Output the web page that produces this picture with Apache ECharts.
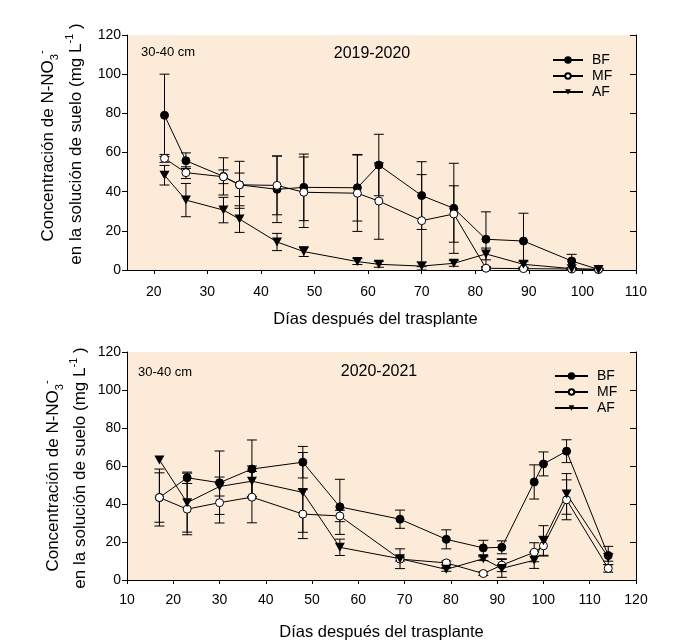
<!DOCTYPE html>
<html>
<head>
<meta charset="utf-8">
<script src="https://cdn.jsdelivr.net/npm/echarts@6/dist/echarts.min.js"></script>
<style>
html,body{margin:0;padding:0;background:#fff;}
#c{width:690px;height:642px;}
</style>
</head>
<body>
<div id="c"></div>
<script>
// ---------- Data: 2019-2020 ----------
const topDays = [22, 26, 33, 36, 43, 48, 58, 62, 70, 76, 82, 89, 98, 103];
const topBF    = [79, 55.8, 47.8, 43.5, 41.2, 42.2, 42, 53.6, 38, 31.5, 15.7, 14.8, 4.6, 0.3];
const topBFErr = [21, 4, 9.5, 12, 17, 17, 17, 15.7, 17.3, 23, 14, 14.2, 3.4, 0.5];
const topMF    = [57, 49.7, 47.6, 43.5, 43.2, 39.7, 39.2, 35.2, 25.2, 28.6, 0.9, 0.7, 0.5, 0.3];
const topMFErr = [2, 3, 3.5, 6, 15, 18, 19.5, 19.5, 23.5, 14.4, 0.5, 0.5, 0.3, 0.2];
const topAF    = [48.4, 35.7, 30.6, 26, 14.3, 9.4, 4.3, 2.9, 2, 3.4, 8.2, 2.9, 0.7, 0.3];
const topAFErr = [5, 8.5, 6.5, 6.8, 4.4, 2.5, 1.5, 1.5, 2, 1.5, 3, 1.5, 0.5, 0.3];

// ---------- Data: 2020-2021 ----------
const botDays = [17, 23, 30, 37, 48, 56, 69, 79, 87, 91, 98, 100, 105, 114];
const botBF    = [43.4, 53.8, 51.2, 58.4, 62, 38.5, 32, 21.4, 16.9, 17.2, 51.6, 61.1, 67.8, 12.9];
const botBFErr = [15, 3, 16.7, 15.3, 8.3, 14.5, 4.8, 5, 4, 3.4, 9, 6.3, 6, 4.8];
const botMF    = [43.4, 37.3, 40.7, 43.6, 34.7, 33.7, 11, 9, 3.4, 7.8, 14.6, 18, 42.2, 6.1];
const botMFErr = [13, 13.5, 10.7, 13.5, 12.9, 3, 1, 1, 1, 3.4, 5, 5, 10.5, 2];
const botAF    = [63.2, 40.7, 49.2, 52, 46.1, 17.2, 11.2, 5.6, 11.2, 6.1, 10.4, 20.6, 45.3, 11.9];
const botAFErr = [0, 15.5, 5, 8, 21, 4.3, 5.2, 1, 1, 4.7, 4.3, 8, 10.7, 2];

const topXTicks = [20, 30, 40, 50, 60, 70, 80, 90, 100, 110];
const seriesNames = ['BF', 'MF', 'AF'];

// ---------- Chart ----------
const FONT = '"Liberation Sans", Arial, sans-serif';
const BG = '#FCEBD9';
const chart = echarts.init(document.getElementById('c'), null, {renderer: 'canvas'});

const triPath = 'path://M0,0 L10,0 L5,9 Z';
const symbolStyles = {
  BF: {symbol: 'circle', symbolSize: 8, itemStyle: {color: '#000', borderColor: '#000', borderWidth: 1}},
  MF: {symbol: 'circle', symbolSize: 8, itemStyle: {color: '#fff', borderColor: '#000', borderWidth: 1}},
  AF: {symbol: triPath, symbolSize: [10, 9], itemStyle: {color: '#000', borderColor: '#000', borderWidth: 0}}
};

function errRender(params, api) {
  const x = api.value(0), y = api.value(1), e = api.value(2);
  if (!e) return null;
  const hi = api.coord([x, y + e]);
  const lo = api.coord([x, y - e]);
  const w = 5;
  const st = {stroke: '#000', lineWidth: 1};
  return {
    type: 'group',
    children: [
      {type: 'line', shape: {x1: hi[0], y1: hi[1], x2: lo[0], y2: lo[1]}, style: st},
      {type: 'line', shape: {x1: hi[0] - w, y1: hi[1], x2: hi[0] + w, y2: hi[1]}, style: st},
      {type: 'line', shape: {x1: lo[0] - w, y1: lo[1], x2: lo[0] + w, y2: lo[1]}, style: st}
    ]
  };
}

function makeSeries(days, vals, errs, name, xi, yi) {
  const out = [];
  out.push({
    type: 'custom', name: name + ' error', xAxisIndex: xi, yAxisIndex: yi, z: 2,
    renderItem: errRender, silent: true,
    encode: {x: 0, y: 1},
    data: days.map((d, i) => [d, vals[i], errs[i]])
  });
  out.push(Object.assign({
    type: 'line', name: name, xAxisIndex: xi, yAxisIndex: yi, z: 3,
    lineStyle: {color: '#000', width: 1},
    data: days.map((d, i) => [d, vals[i]])
  }, symbolStyles[name]));
  return out;
}

const series = [].concat(
  makeSeries(topDays, topBF, topBFErr, 'BF', 0, 0),
  makeSeries(topDays, topMF, topMFErr, 'MF', 0, 0),
  makeSeries(topDays, topAF, topAFErr, 'AF', 0, 0),
  makeSeries(botDays, botBF, botBFErr, 'BF', 2, 2),
  makeSeries(botDays, botMF, botMFErr, 'MF', 2, 2),
  makeSeries(botDays, botAF, botAFErr, 'AF', 2, 2)
);

const axisLine = {show: true, lineStyle: {color: '#000', width: 1}};
const labelStyle = {color: '#000', fontSize: 14, fontFamily: FONT};

function yAxes(gridIndex) {
  return [
    {gridIndex, type: 'value', min: 0, max: 120, interval: 20, position: 'left',
     axisLine, axisTick: {show: true, inside: false, length: 5, lineStyle: {color: '#000'}},
     axisLabel: Object.assign({margin: 6}, labelStyle), splitLine: {show: false}},
    {gridIndex, type: 'value', min: 0, max: 120, interval: 20, position: 'right',
     axisLine, axisTick: {show: true, inside: true, length: 6, lineStyle: {color: '#000'}},
     axisLabel: {show: false}, splitLine: {show: false}}
  ];
}

const xTitleStyle = {color: '#000', fontSize: 16.5, fontFamily: FONT};

const legendText = {color: '#000', fontSize: 14, fontFamily: FONT, padding: [0, 0, 0, 4]};

const option = {
  animation: false,
  backgroundColor: '#fff',
  grid: [
    {left: 127, top: 35, width: 509, height: 235, show: true, backgroundColor: BG, borderWidth: 0},
    {left: 127, top: 352, width: 509, height: 235, show: true, backgroundColor: BG, borderWidth: 0}
  ],
  xAxis: [
    {gridIndex: 0, type: 'value', min: 15, max: 110, position: 'bottom',
     axisLine,
     axisTick: {show: true, length: 4, lineStyle: {color: '#000'}, customValues: topXTicks},
     axisLabel: Object.assign({margin: 15, customValues: topXTicks}, labelStyle),
     splitLine: {show: false},
     name: 'Días después del trasplante', nameLocation: 'middle', nameGap: 41,
     nameTextStyle: Object.assign({padding: [0, 12, 0, 0]}, xTitleStyle)},
    {gridIndex: 0, type: 'value', min: 15, max: 110, position: 'top',
     axisLine, axisTick: {show: false}, axisLabel: {show: false}, splitLine: {show: false}},
    {gridIndex: 1, type: 'value', min: 10, max: 120, interval: 10, position: 'bottom',
     axisLine,
     axisTick: {show: true, length: 4, lineStyle: {color: '#000'}},
     axisLabel: Object.assign({margin: 13}, labelStyle),
     splitLine: {show: false},
     name: 'Días después del trasplante', nameLocation: 'middle', nameGap: 44, nameTextStyle: xTitleStyle},
    {gridIndex: 1, type: 'value', min: 10, max: 120, position: 'top',
     axisLine, axisTick: {show: false}, axisLabel: {show: false}, splitLine: {show: false}}
  ],
  yAxis: [].concat(yAxes(0), yAxes(1)),
  legend: [
    {data: seriesNames, orient: 'vertical', left: 547, top: 48, itemWidth: 30, itemHeight: 7, itemGap: 2,
     textStyle: legendText, selectedMode: false},
    {data: seriesNames, orient: 'vertical', left: 549, top: 364, itemWidth: 33, itemHeight: 7, itemGap: 2,
     textStyle: legendText, selectedMode: false}
  ],
  graphic: [],
  series: series
};

function yTitle(cx1, cy1, cx2, cy2) {
  const rich = {
    n: {fontSize: 17, fontFamily: FONT, color: '#000', lineHeight: 24},
    sub: {fontSize: 11, fontFamily: FONT, color: '#000', lineHeight: 24, verticalAlign: 'bottom'},
    sup: {fontSize: 11, fontFamily: FONT, color: '#000', lineHeight: 24, verticalAlign: 'top'}
  };
  return [
    {type: 'text', x: cx1, y: cy1, rotation: Math.PI / 2, z: 10,
     style: {text: '{n|Concentración de N-NO}{sub|3}{sup|-}', rich, align: 'center', verticalAlign: 'middle'}},
    {type: 'text', x: cx2, y: cy2, rotation: Math.PI / 2, z: 10,
     style: {text: '{n|en la solución de suelo (mg L}{sup|-1}{n| )}', rich, align: 'center', verticalAlign: 'middle'}}
  ];
}

function label(x, y, text, size, align) {
  return {type: 'text', x, y, z: 10,
    style: {text, fontSize: size, fontFamily: FONT, fill: '#000', align: align, verticalAlign: 'middle'}};
}

option.graphic = [].concat(
  yTitle(48, 146, 76, 144),
  yTitle(53, 476, 80, 468),
  [label(141, 52, '30-40 cm', 13, 'left'),
   label(372, 54, '2019-2020', 16, 'center'),
   label(138, 372, '30-40 cm', 13, 'left'),
   label(379, 372, '2020-2021', 16, 'center')]
);

chart.setOption(option);
</script>
</body>
</html>
